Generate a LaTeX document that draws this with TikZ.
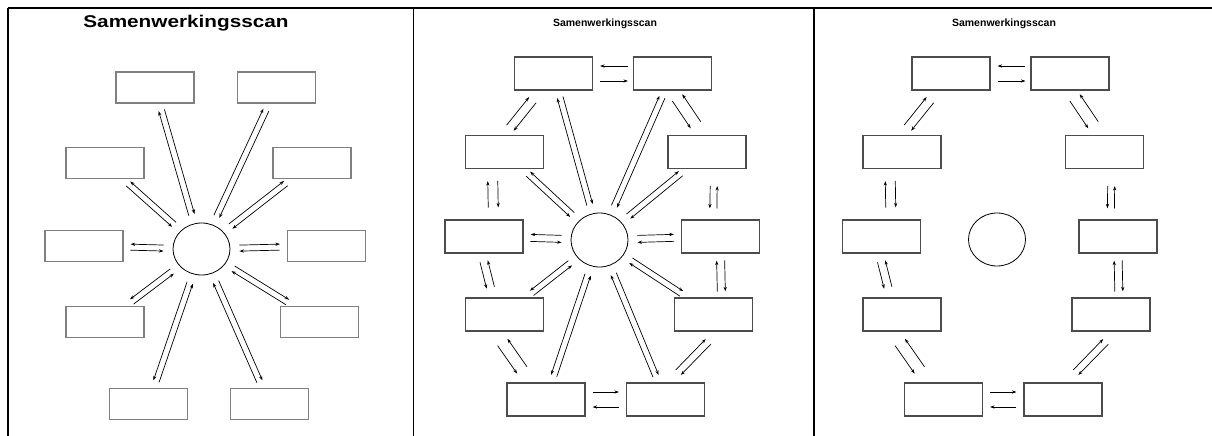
\documentclass[tikz,border=0pt]{standalone}
\usepackage{fontspec}
\setmainfont{Liberation Sans}
\usetikzlibrary{arrows.meta,calc,shapes.geometric}

\tikzset{
	box/.style={shape=rectangle, draw=black!55, line width=1.1pt, minimum width=78pt, minimum height=32pt, inner sep=0pt},
	hub/.style={shape=ellipse, draw, line width=0.8pt, minimum width=57pt, minimum height=53pt, inner sep=0pt},
	flow/.style={line width=0.7pt, -{Stealth[length=4.5pt,width=3.2pt]}},
	frame/.style={line width=1.8pt},
	heading/.style={inner sep=0pt}
}

% two opposite arrows between #1 and #2, side offset #3, gaps #4 and #5
\newcommand{\twin}[5]{%
	\path (#1) -- (#2) coordinate[pos=0] (tw-s) coordinate[pos=1] (tw-e);
	\draw[flow, shorten <=#4, shorten >=#5] ($(tw-s)!#3!90:(tw-e)$) -- ($(tw-e)!#3!-90:(tw-s)$);
	\draw[flow, shorten <=#5, shorten >=#4] ($(tw-e)!#3!90:(tw-s)$) -- ($(tw-s)!#3!-90:(tw-e)$);
}

\begin{document}
\begin{tikzpicture}[x=1pt, y=-1pt]
	\useasboundingbox (0,0) rectangle (1212,436);
	% Table lines:
	\draw[frame] (8,8) -- (1212,8);
	\draw[frame] (8,8) -- (8,436);
	\draw[frame] (413.5,8) -- (413.5,436);
	\draw[frame] (814,8) -- (814,436);
	% Titles:
	\node[heading, font=\bfseries\fontsize{17}{20}\selectfont] (t1) at (186,23) {\scalebox{1.22}[1]{Samenwerkingsscan}};
	\node[heading, font=\bfseries\fontsize{10.5}{12}\selectfont] (t2) at (605,24) {Samenwerkingsscan};
	\node[heading, font=\bfseries\fontsize{10.5}{12}\selectfont] (t3) at (1004,24) {Samenwerkingsscan};
	% Left panel: star
	\foreach \n/\x/\y in {1/155/87.5, 2/276.5/87.5, 3/312/163, 4/326.5/246, 5/319.5/322, 6/269.5/404, 7/148.5/404, 8/105/322, 9/84/246, 10/105/163}
		\node[box, draw=black!50, minimum height=31pt] (a\n) at (\x,\y) {};
	\node[hub, minimum height=52pt] (ac) at (201.5,249) {};
	\foreach \n/\d in {1/3pt, 2/3pt, 3/3pt, 4/3pt, 5/3pt, 6/3pt, 7/-3pt, 8/-3pt, 9/-3pt, 10/-3pt}
		\twin{ac}{a\n}{\d}{9pt}{7pt};
	% Middle and right panel: star with ring, ring only
	\foreach \n/\x/\y in {1/553.5/73.5, 2/672.5/73.5, 3/707/152, 4/720.5/236.5, 5/713.5/314.5, 6/665.5/399.5, 7/546/399.5, 8/504.5/314.5, 9/484/236.5, 10/504.5/152} {
		\node[box, draw=black!70, minimum height=33pt] (b\n) at (\x,\y) {};
		\node[box, draw=black!70, minimum height=33pt] (c\n) at (\x+397.5,\y) {};
	}
	\node[hub, minimum height=54pt] (bc) at (599.5,240) {};
	\node[hub] (cc) at (997,239.5) {};
	\foreach \n/\d in {1/3pt, 2/3pt, 3/3pt, 4/3.5pt, 5/3pt, 6/3pt, 7/-3pt, 8/-3pt, 9/-3.5pt, 10/-3pt}
		\twin{bc}{b\n}{\d}{9pt}{7pt};
	\foreach \p in {b,c} {
		\twin{\p1.east}{\p2.west}{-7.5pt}{7pt}{5pt}
		\twin{\p2.south}{\p3.105}{-6pt}{8.5pt}{12pt}
		\twin{\p3.-68}{\p4.113}{-3.5pt}{17pt}{11pt}
		\twin{\p4.south}{\p5.65}{4pt}{7pt}{6pt}
		\twin{\p5.-75}{\p6.80}{3.6pt}{14pt}{14pt}
		\twin{\p6.west}{\p7.east}{7.5pt}{7pt}{7pt}
		\twin{\p7.132}{\p8.-119}{-6pt}{15pt}{13pt}
		\twin{\p8.124}{\p9.-97}{-4pt}{10pt}{8pt}
		\twin{\p9.61}{\p10.-125}{5pt}{12pt}{12pt}
		\twin{\p10.north}{\p1.-128}{4.5pt}{9pt}{12pt}
	}
\end{tikzpicture}
\end{document}
